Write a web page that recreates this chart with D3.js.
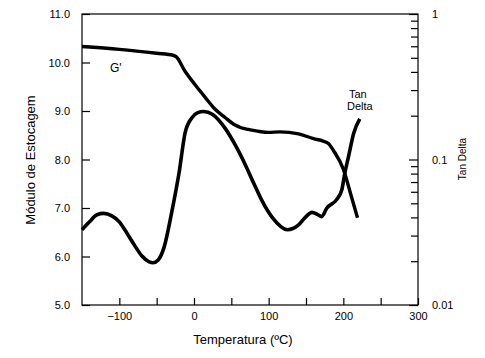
<!DOCTYPE html>
<html>
<head>
<meta charset="utf-8">
<script src="https://cdn.jsdelivr.net/npm/d3@7"></script>
<style>
  body { margin: 0; background: #fff; }
  svg text { font-family: "Liberation Sans", Arial, sans-serif; fill: #000; }
</style>
</head>
<body>
<script>
// temperatures (ºC) and storage modulus G' (left axis)
const gTemp = [-150, -100, -50, -28, -24, -12, 1, 15, 28, 42, 55, 63, 73, 100, 115, 140, 160, 173, 180, 187, 200, 210, 219];
const gValue = [10.33, 10.27, 10.19, 10.15, 10.12, 9.82, 9.55, 9.28, 9.04, 8.86, 8.71, 8.655, 8.62, 8.56, 8.57, 8.53, 8.43, 8.38, 8.33, 8.18, 7.80, 7.28, 6.80];

// tan delta (right log axis)
const tdTemp = [-150, -140, -130, -121, -110, -100, -90, -80, -70, -60, -55, -48, -40, -30, -20, -12, -3, 5, 13, 25, 42, 55, 69, 80, 91, 105, 125, 140, 150, 158, 165, 171, 178, 191, 198, 202, 207, 214, 222];
const tdValue = [0.0329, 0.0373, 0.0417, 0.0426, 0.0410, 0.0373, 0.0313, 0.0259, 0.0218, 0.0198, 0.0195, 0.0204, 0.0250, 0.043, 0.081, 0.152, 0.193, 0.210, 0.214, 0.204, 0.163, 0.1265, 0.0914, 0.0687, 0.0521, 0.0398, 0.0329, 0.0355, 0.0405, 0.0433, 0.0420, 0.0405, 0.0464, 0.0530, 0.0620, 0.0807, 0.105, 0.152, 0.190];

const xTicks = [-100, -50, 0, 50, 100, 150, 200, 250, 300];
const xLabels = [-100, 0, 100, 200, 300];
const yTicks = [5, 6, 7, 8, 9, 10, 11];
const tdMajor = [0.01, 0.1, 1];
const tdMinor = [0.02, 0.03, 0.04, 0.05, 0.06, 0.07, 0.08, 0.09, 0.2, 0.3, 0.4, 0.5, 0.6, 0.7, 0.8, 0.9];

const W = 485, H = 358;
const margin = {top: 14, right: 67, bottom: 53, left: 82};
const iw = W - margin.left - margin.right;
const ih = H - margin.top - margin.bottom;

const svg = d3.select("body").append("svg").attr("width", W).attr("height", H);
const g = svg.append("g").attr("transform", `translate(${margin.left},${margin.top})`);

const x = d3.scaleLinear().domain([-150, 300]).range([0, iw]);
const y = d3.scaleLinear().domain([5, 11]).range([ih, 0]);
const yTd = d3.scaleLog().domain([0.01, 1]).range([ih, 0]);

// box
g.append("rect").attr("width", iw).attr("height", ih)
  .attr("fill", "none").attr("stroke", "#000").attr("stroke-width", 1.2);

const fmtX = d => xLabels.includes(d) ? (d < 0 ? "\u2212" + Math.abs(d) : d) : "";

g.append("g").attr("transform", `translate(0,${ih})`)
  .call(d3.axisBottom(x).tickValues(xTicks).tickSize(-7).tickPadding(7).tickFormat(fmtX))
  .call(a => a.select(".domain").remove())
  .call(a => a.selectAll("text").style("font-size", "11px"));

g.append("g")
  .call(d3.axisLeft(y).tickValues(yTicks).tickSize(-8).tickPadding(12).tickFormat(d3.format(".1f")))
  .call(a => a.select(".domain").remove())
  .call(a => a.selectAll("text").style("font-size", "11px"));

g.append("g").attr("transform", `translate(${iw},0)`)
  .call(d3.axisRight(yTd).tickValues(tdMinor).tickSize(-7).tickFormat(""))
  .call(a => a.select(".domain").remove());

g.append("g").attr("transform", `translate(${iw},0)`)
  .call(d3.axisRight(yTd).tickValues(tdMajor).tickSize(-9).tickPadding(14).tickFormat(d => String(d)))
  .call(a => a.select(".domain").remove())
  .call(a => a.selectAll("text").style("font-size", "11px"));

g.selectAll(".tick line").attr("stroke", "#000").attr("stroke-width", 1.2);

// curves
const lineG = d3.line().x((d, i) => x(gTemp[i])).y(d => y(d)).curve(d3.curveMonotoneX);
const lineTd = d3.line().x((d, i) => x(tdTemp[i])).y(d => yTd(d)).curve(d3.curveMonotoneX);

g.append("path").datum(gValue).attr("d", lineG)
  .attr("fill", "none").attr("stroke", "#000").attr("stroke-width", 3.4).attr("stroke-linejoin", "round");
g.append("path").datum(tdValue).attr("d", lineTd)
  .attr("fill", "none").attr("stroke", "#000").attr("stroke-width", 3.6).attr("stroke-linejoin", "round");

// labels inside
svg.append("text").attr("x", 110).attr("y", 72).style("font-size", "12px").text("G'");
svg.append("text").attr("x", 349).attr("y", 98).style("font-size", "11px").text("Tan");
svg.append("text").attr("x", 347).attr("y", 110).style("font-size", "11px").text("Delta");

// axis titles
svg.append("text").attr("x", 243).attr("y", 344).attr("text-anchor", "middle")
  .style("font-size", "13px").text("Temperatura (ºC)");
svg.append("text").attr("transform", "translate(35,160) rotate(-90)").attr("text-anchor", "middle")
  .style("font-size", "13px").text("Módulo de Estocagem");
svg.append("text").attr("transform", "translate(466,159) rotate(-90)").attr("text-anchor", "middle")
  .style("font-size", "10px").text("Tan Delta");
</script>
</body>
</html>
